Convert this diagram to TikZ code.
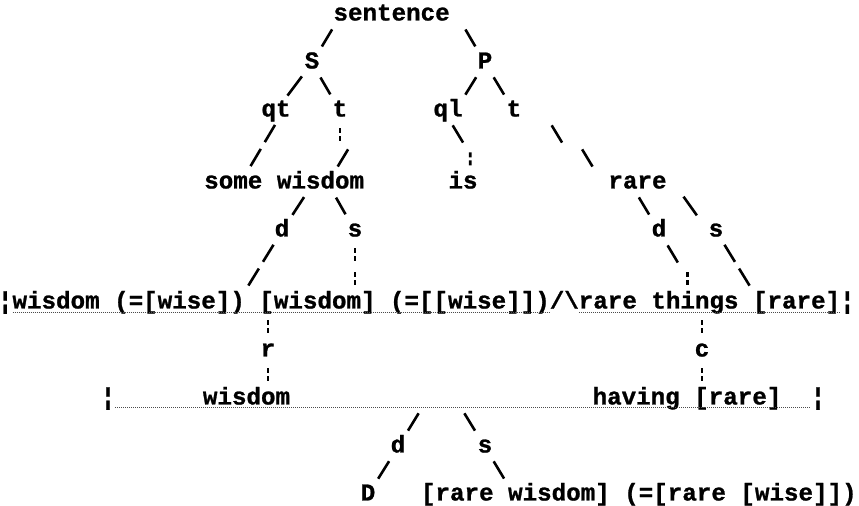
\documentclass[tikz,border=0pt]{standalone}
\usepackage{fontspec}
\setmonofont{Liberation Mono}[BoldFeatures={FakeBold=1}]
\tikzset{
  word/.style={font=\ttfamily\bfseries\fontsize{12.1}{14}\selectfont, inner sep=0pt, outer sep=0pt, text height=5.5pt, text depth=0pt, anchor=base},
  one/.style={line width=1.3pt, shorten <=8.4pt, shorten >=9.6pt},
  two/.style={line width=1.3pt, shorten <=8.1pt, shorten >=9.8pt, dash pattern=on 10pt off 3.95pt},
  bar/.style={line width=1.3pt, shorten <=8.75pt, shorten >=8.75pt, dash pattern=on 2.5pt off 1.5pt on 2.5pt off 5.5pt},
  under/.style={draw=black!70, line width=0.5pt, dash pattern=on 0.5pt off 0.5pt}
}
\begin{document}
\begin{tikzpicture}[x=0.5pt,y=-0.5pt]
        \useasboundingbox (0,0) rectangle (859,506);

        \node[word] (sent) at (391.6,20.5) {sentence};
        \node[word] (S) at (312,68.5) {S};
        \node[word] (P) at (485,68.5) {P};
        \node[word] (qt) at (276,116.5) {qt};
        \node[word] (tS) at (340,116.5) {t};
        \node[word] (ql) at (448,116.5) {ql};
        \node[word] (tP) at (514,116.5) {t};
        \node[word] (some) at (233.3,188.5) {some};
        \node[word] (wisd) at (320.5,188.5) {wisdom};
        \node[word] (is) at (463,188.5) {is};
        \node[word] (rare) at (637.5,188.5) {rare};
        \node[word] (dS) at (282,236.5) {d};
        \node[word] (sS) at (355,236.5) {s};
        \node[word] (dP) at (659,236.5) {d};
        \node[word] (sP) at (716,236.5) {s};

        \node[word,anchor=base west] (w1) at (-2,308.5) {¦wisdom (=[wise])};
        \node[word,anchor=base west] (w2) at (259.4,308.5) {[wisdom]};
        \node[word,anchor=base west] (w3) at (390,308.5) {(=[[wise]])};
        \node[word,anchor=base west] (cut) at (549.8,308.5) {/\textbackslash};
        \node[word,anchor=base west] (things) at (578.8,308.5) {rare things};
        \node[word,anchor=base west] (rr) at (753,308.5) {[rare]¦};
        \draw[under] ([xshift=7.26pt,yshift=-2pt]w1.base west) -- ([yshift=-2pt]w3.base east);
        \draw[under] ([yshift=-2pt]things.base west) -- ([xshift=-7.26pt,yshift=-2pt]rr.base east);

        \node[word] (r) at (268,356.5) {r};
        \node[word] (c) at (702,356.5) {c};
        \node[word] (lbar) at (108,404.5) {¦};
        \node[word] (wis) at (246.5,404.5) {wisdom};
        \node[word] (having) at (687,404.5) {having [rare]};
        \node[word] (rbar) at (818,404.5) {¦};
        \draw[under] ([yshift=-1.5pt]lbar.base east) -- ([yshift=-1.5pt]rbar.base west);
        \coordinate (jd) at (427.4,399);
        \coordinate (js) at (455.6,399);

        \node[word] (d) at (398,452.5) {d};
        \node[word] (s) at (485,452.5) {s};
        \node[word] (D) at (368,500.5) {D};
        \node[word,anchor=base west] (rw) at (421,500.5) {[rare wisdom] (=[rare [wise]])};

        \draw[one] ([xshift=3.63pt]sent.west) -- (S.center);
        \draw[one] ([xshift=3.63pt]sent.east) -- (P.center);
        \draw[one] (S.center) -- (qt.center);
        \draw[one] (S.center) -- (tS.center);
        \draw[one] (P.center) -- ([xshift=3.63pt]ql.center);
        \draw[one] (P.center) -- (tP.center);
        \draw[two] ([xshift=3.63pt]qt.center) -- ([xshift=3.63pt]some.center);
        \draw[bar] (tS.center) -- ++(0,48);
        \draw[one] ([shift={(16.8,24)}]tS.center) -- ([xshift=3.63pt]wisd.center);
        \draw[one] ([xshift=-2pt]ql.center) -- ([shift={(10,-24)}]is.center);
        \draw[bar] ([shift={(7.3,-48)}]is.center) -- ([xshift=3.63pt]is.center);
        \draw[one] ([xshift=14.5pt]tP.center) -- ++(29,48);
        \draw[one] ([shift={(-35,-48)}]rare.west) -- ([xshift=-3pt]rare.west);

        \draw[one] ([xshift=-3.63pt]wisd.center) -- (dS.center);
        \draw[one] ([xshift=3.63pt]wisd.center) -- (sS.center);
        \draw[one] ([xshift=-3.63pt]rare.center) -- (dP.center);
        \draw[one] ([xshift=3.63pt]rare.east) -- ([xshift=-4pt]sP.center);
        \draw[two] (dS.center) -- ([xshift=-3.63pt]w1.east);
        \draw[bar] (sS.center) -- (sS.center |- w2.center);
        \draw[one] (dP.center) -- ([shift={(29,-24)}]things.center);
        \draw[bar] ([shift={(29,-48)}]things.center) -- ([shift={(29,0)}]things.center);
        \draw[two] (sP.center) -- ([xshift=3.63pt]rr.west);

        \draw[bar] (r.center |- w2.center) -- (r.center);
        \draw[bar] (r.center) -- (r.center |- wis.center);
        \draw[bar] (c.center |- things.center) -- (c.center);
        \draw[bar] (c.center) -- (c.center |- having.center);

        \draw[one] (jd) -- (d.center);
        \draw[one] (js) -- (s.center);
        \draw[one] (d.center) -- (D.center);
        \draw[one] (s.center) -- ([xshift=46.5pt]rw.west);
\end{tikzpicture}
\end{document}
